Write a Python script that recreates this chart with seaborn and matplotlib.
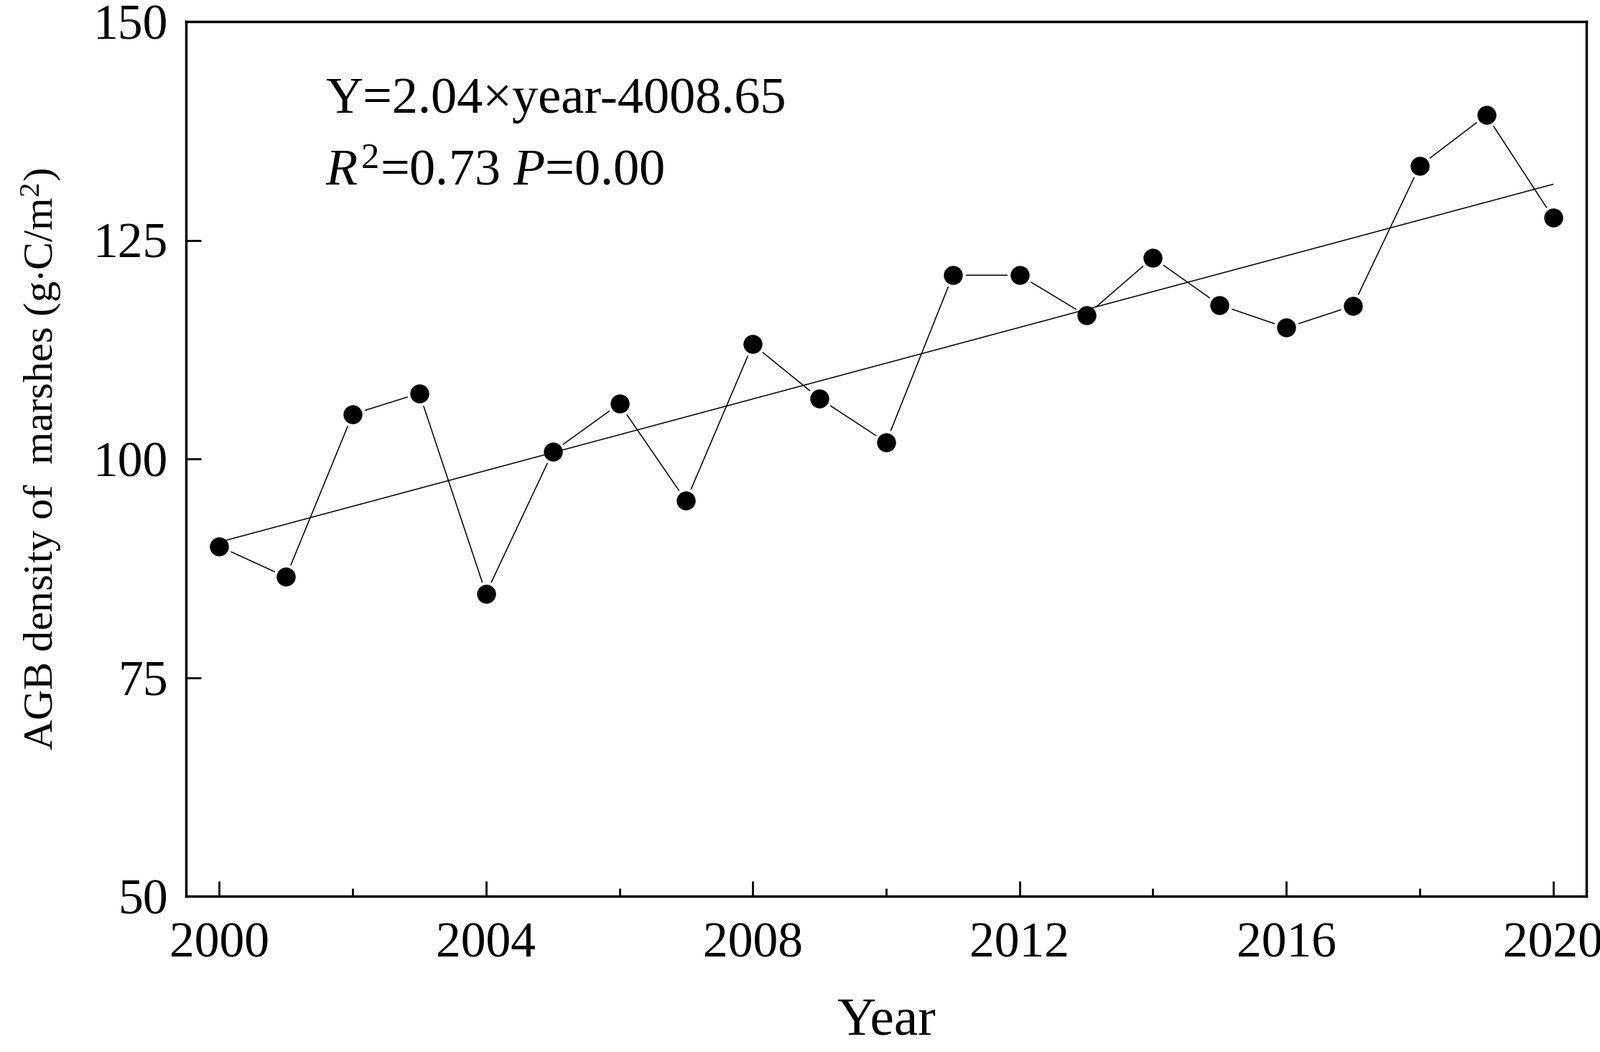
import numpy as np
import pandas as pd
import matplotlib
matplotlib.use('Agg')
import matplotlib.pyplot as plt
import seaborn as sns
from matplotlib.ticker import MultipleLocator

# datos
years = [2000, 2001, 2002, 2003, 2004, 2005, 2006, 2007, 2008, 2009, 2010,
         2011, 2012, 2013, 2014, 2015, 2016, 2017, 2018, 2019, 2020]
agb = [90.0, 86.5, 105.1, 107.5, 84.6, 100.8, 106.3, 95.2, 113.1, 106.9, 101.9,
       121.0, 121.0, 116.4, 123.0, 117.6, 115.0, 117.5, 133.5, 139.3, 127.6]
y_ticks = [50, 75, 100, 125, 150]
x_ticks = [2000, 2004, 2008, 2012, 2016, 2020]

df = pd.DataFrame({'Year': years, 'AGB': agb})

sns.set_style('ticks')
plt.rcParams['font.family'] = ['Liberation Serif', 'DejaVu Serif']
plt.rcParams['mathtext.fontset'] = 'custom'
plt.rcParams['mathtext.rm'] = 'Liberation Serif'
plt.rcParams['mathtext.it'] = 'Liberation Serif:italic'
plt.rcParams['text.color'] = 'black'
plt.rcParams['axes.labelcolor'] = 'black'
plt.rcParams['xtick.color'] = 'black'
plt.rcParams['ytick.color'] = 'black'

fig = plt.figure(figsize=(22.28, 14.65), dpi=100)
ax = fig.add_axes([0.1162, 0.1481, 0.8753, 0.8314])

# serie con marcadores
sns.lineplot(data=df, x='Year', y='AGB', ax=ax, color='black', linewidth=1.1,
             marker='o', markersize=22, markerfacecolor='black',
             markeredgecolor='white', markeredgewidth=3)

# linea de tendencia
sns.regplot(data=df, x='Year', y='AGB', ax=ax, ci=None, scatter=False,
            line_kws={'color': 'black', 'linewidth': 1.1})

ax.set_xlim(1999.5, 2020.5)
ax.set_ylim(50, 150)
ax.set_xticks(x_ticks)
ax.xaxis.set_minor_locator(MultipleLocator(2))
ax.set_yticks(y_ticks)

ax.tick_params(axis='x', which='major', direction='in', length=15, width=2,
               labelsize=50, pad=26, top=False)
ax.tick_params(axis='x', which='minor', direction='in', length=8, width=2, top=False)
ax.tick_params(axis='y', direction='in', length=15, width=2, labelsize=50,
               pad=18, right=False)

for s in ax.spines.values():
    s.set_linewidth(2.5)
    s.set_color('black')

ax.set_xlabel('Year', fontsize=54, labelpad=30)
ax.set_ylabel(r'AGB density of  marshes (g$\cdot$C/m$^2$)', fontsize=42, labelpad=30)

ax.text(0.0995, 0.91, 'Y=2.04×year-4008.65', transform=ax.transAxes,
        fontsize=52, va='center', ha='left')
ax.text(0.0995, 0.828, r'$R^2$=0.73 $P$=0.00', transform=ax.transAxes,
        fontsize=52, va='center', ha='left')

plt.savefig('out.png', dpi=100)
